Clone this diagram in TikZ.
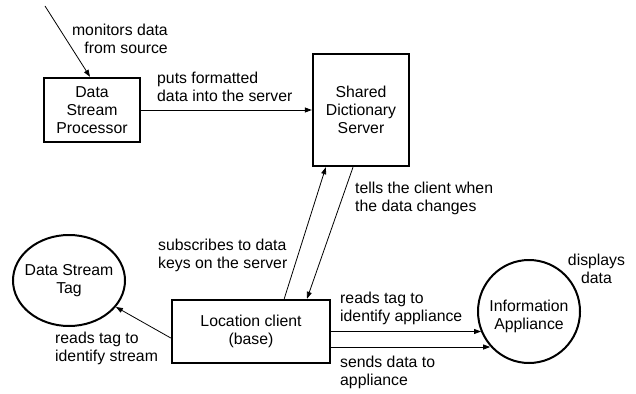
\documentclass[tikz,border=0pt]{standalone}
\usepackage{fontspec}
\setmainfont{Liberation Sans}
\usetikzlibrary{arrows.meta,positioning,shapes.geometric}

\begin{document}
\begin{tikzpicture}
		[x=1pt, y=-1pt, inner sep=0pt,
		font=\fontsize{15.8}{18}\selectfont,
		box/.style		= {draw, rectangle, line width=2.4pt, align=center},
		blob/.style		= {draw, ellipse, line width=2pt},
		flow/.style		= {-{Triangle[length=7pt,width=5pt]}, line width=0.8pt},
		note/.style		= {align=left}]

		\useasboundingbox (0,0) rectangle (636,393);

		% boxes
		\node [box, minimum width=96pt, minimum height=64pt]	at (92,110)		(proc)		{Data\\Stream\\Processor};
		\node [box, minimum width=96pt, minimum height=112pt]	at (361,110)	(server)	{Shared\\Dictionary\\Server};
		\node [box, minimum width=158pt, minimum height=63pt]	at (251,331.5)	(client)	{Location client\\(base)};

		% round ones, text set on top
		\node [blob, minimum width=112pt, minimum height=91pt]	at (69,280.5)	(tag)	{};
		\node [align=center] at (tag.center)					(tagtext)	{Data Stream\\Tag};
		\node [blob, minimum width=102pt, minimum height=103pt]	at (529,311.5)	(info)	{};
		\node [align=center] at ([yshift=-5]info.center)		(infotext)	{Information\\Appliance};

		\coordinate (src) at (45,6);

		% connectors
		\draw [flow] (src) -- ([xshift=-2]proc.north);
		\draw [flow] (proc) -- (server);
		\draw [flow] ([xshift=-47]client.north east) -- ([xshift=14]server.south west);
		\draw [flow] ([xshift=-8]server.south) -- ([xshift=56]client.north);
		\draw [flow] ([yshift=-6.5]client.west) -- (tag);
		\draw [flow] (client.east) -- (client.east -| info.203);
		\draw [flow] ([yshift=-15.5]client.east) -- ([yshift=-15.5]client.east -| info.222);

		% labels
		\node [align=right, anchor=north east]	at (168,23.5)	(l1)	{monitors data\\from source};
		\node [note, anchor=north west]			at (157,71.5)	(l2)	{puts formatted\\data into the server};
		\node [note, anchor=north west]			at (355,181.5)	(l3)	{tells the client when\\the data changes};
		\node [note, anchor=north west]			at (158,238.5)	(l4)	{subscribes to data\\keys on the server};
		\node [note, anchor=north west]			at (55,331.5)	(l5)	{reads tag to\\identify stream};
		\node [note, anchor=north west]			at (340,291.5)	(l6)	{reads tag to\\identify appliance};
		\node [note, anchor=north west]			at (340,355.5)	(l7)	{sends data to\\appliance};
		\node [align=center, anchor=north]		at (596.5,253.5) (l8)	{displays\\data};
\end{tikzpicture}
\end{document}
